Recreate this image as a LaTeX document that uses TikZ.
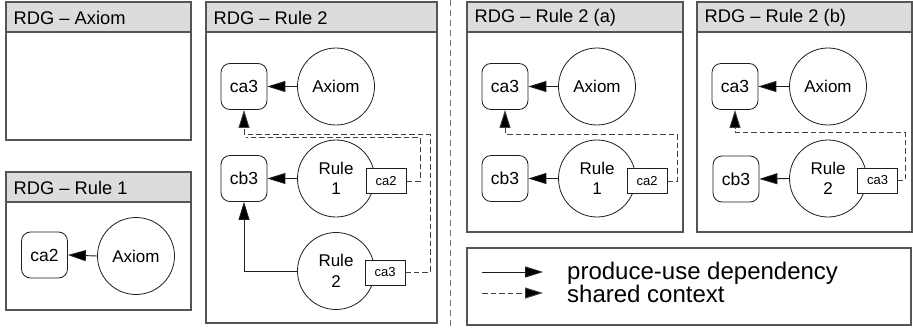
\documentclass[tikz,border=0pt]{standalone}
\usepackage{fontspec}
\setmainfont{Liberation Sans}
\usetikzlibrary{arrows.meta}
\definecolor{frame}{HTML}{555555}
\definecolor{headfill}{HTML}{DCDCDC}
\definecolor{ink}{HTML}{1E1E1E}
\tikzset{
  panelbox/.style={draw=frame, line width=1.1pt, fill=white},
  panelhead/.style={draw=frame, line width=1.1pt, fill=headfill},
  paneltitle/.style={anchor=west, inner sep=0pt, font=\fontsize{18.3}{21}\selectfont, text=black},
  dataitem/.style={draw=ink, line width=0.8pt, rounded corners=9pt, minimum width=46pt, minimum height=46pt, inner sep=0pt, fill=white, font=\fontsize{17.5}{20}\selectfont},
  rulenode/.style={draw=ink, line width=0.8pt, circle, minimum size=77pt, inner sep=0pt, fill=white, align=center, font=\fontsize{17}{20.5}\selectfont},
  ctxbox/.style={draw=ink, line width=0.8pt, minimum width=40pt, minimum height=25pt, inner sep=0pt, fill=white, font=\fontsize{13}{15}\selectfont},
  tiphead/.style={-{Triangle[length=18pt,width=11pt,fill=black]}},
  produse/.style={draw=ink, line width=0.9pt, tiphead},
  sharedctx/.style={draw=ink!85, line width=0.9pt, dash pattern=on 5.5pt off 3pt, tiphead},
  sharedline/.style={draw=ink!85, line width=0.9pt, dash pattern=on 5.5pt off 3pt},
  legendtext/.style={anchor=west, inner sep=0pt, font=\fontsize{24}{27}\selectfont},
}
\newcommand{\rdgpanel}[5]{%
  \draw[panelbox] (#1,#2) rectangle (#3,#4);
  \draw[panelhead] (#1,#2) rectangle (#3,#2+30);
  \node[paneltitle] at (#1+7.5,#2+15.5) {#5};
}
\begin{document}
\begin{tikzpicture}[x=1pt,y=-1pt]
\useasboundingbox (0,0) rectangle (913,329);

% separator between the two halves
\draw[draw=frame!80, line width=0.9pt, dash pattern=on 6pt off 4pt] (450,0) -- (450,329);

% panels
\rdgpanel{6}{2}{191}{140}{RDG – Axiom}
\rdgpanel{6}{172}{191}{310}{RDG – Rule 1}
\rdgpanel{206}{2}{437}{323}{RDG – Rule 2}
\rdgpanel{467}{2}{683}{232}{RDG – Rule 2 (a)}
\rdgpanel{697}{2}{912}{232}{RDG – Rule 2 (b)}
\draw[panelbox] (467,248) rectangle (911,325);

% RDG - Rule 1
\node[dataitem] (p1ca2) at (44.5,255) {ca2};
\node[rulenode] (p1ax) at (136,256) {Axiom};
\draw[produse] (p1ax.west) -- (p1ca2.east);

% RDG - Rule 2
\node[dataitem] (p2ca3) at (244,86.5) {ca3};
\node[rulenode] (p2ax) at (336,86.5) {Axiom};
\node[dataitem] (p2cb3) at (244,178.5) {cb3};
\node[rulenode] (p2r1) at (336,178.5) {Rule\\1};
\node[ctxbox] (p2s1) at (386,181) {ca2};
\node[rulenode] (p2r2) at (336,271) {Rule\\2};
\node[ctxbox] (p2s2) at (385,272.5) {ca3};
\coordinate (p2o) at (430,134);
\coordinate (p2i) at (420,137.5);
\coordinate (p2iend) at (246,137.5);
\draw[produse] (p2ax.west) -- (p2ca3.east);
\draw[produse] (p2r1.west) -- (p2cb3.east);
\draw[produse] (p2r2.west) -| (p2cb3.south);
\draw[sharedline] (p2s1.east) -| (p2i) -- (p2iend);
\draw[sharedctx] (p2s2.east) -| (p2o) -| (p2ca3.south);

% RDG - Rule 2 (a)
\node[dataitem] (p3ca3) at (505,86.5) {ca3};
\node[rulenode] (p3ax) at (597,86.5) {Axiom};
\node[dataitem] (p3cb3) at (505,178.5) {cb3};
\node[rulenode] (p3r1) at (597,178.5) {Rule\\1};
\node[ctxbox] (p3s1) at (647,181) {ca2};
\coordinate (p3o) at (677,134);
\draw[produse] (p3ax.west) -- (p3ca3.east);
\draw[produse] (p3r1.west) -- (p3cb3.east);
\draw[sharedctx] (p3s1.east) -| (p3o) -| (p3ca3.south);

% RDG - Rule 2 (b)
\node[dataitem] (p4ca3) at (735,86.5) {ca3};
\node[rulenode] (p4ax) at (828,86.5) {Axiom};
\node[dataitem] (p4cb3) at (736,179) {cb3};
\node[rulenode] (p4r2) at (828,178.5) {Rule\\2};
\node[ctxbox] (p4s2) at (877.5,180.5) {ca3};
\coordinate (p4o) at (905,132);
\draw[produse] (p4ax.west) -- (p4ca3.east);
\draw[produse] (p4r2.west) -- (p4cb3.east);
\draw[sharedctx] (p4s2.east) -| (p4o) -| (p4ca3.south);

% legend
\coordinate (l1a) at (482,272);
\coordinate (l1b) at (543,272);
\coordinate (l2a) at (482,293);
\coordinate (l2b) at (543,293);
\draw[produse] (l1a) -- (l1b);
\draw[sharedctx] (l2a) -- (l2b);
\node[legendtext] (lt1) at (567,273) {produce-use dependency};
\node[legendtext] (lt2) at (567,294) {shared context};
\end{tikzpicture}
\end{document}
